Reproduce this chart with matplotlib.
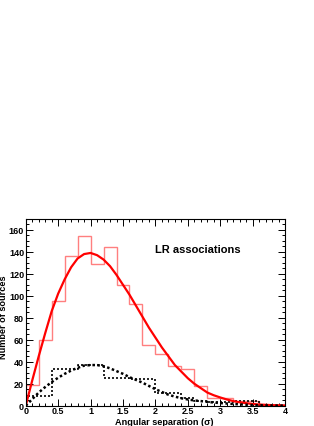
import numpy as np
import matplotlib
matplotlib.use("Agg")
import matplotlib.pyplot as plt
from matplotlib.ticker import MultipleLocator

plt.rcParams["font.family"] = ["Liberation Sans", "DejaVu Sans"]

# histogram bin edges (angular separation, sigma)
bin_edges = [round(0.2 * i, 1) for i in range(21)]

# LR associations, all sources (red histogram)
counts_all = [19, 60, 95, 136, 154, 129, 144, 110, 93, 55,
              47, 36, 33, 17.5, 7, 7, 4.5, 4.5, 1, 0.5]

# subsample (black dotted histogram)
counts_sub = [9, 9, 33, 33, 37, 37, 25, 25, 24.5, 24.5,
              12, 12, 7, 4.5, 3.5, 3, 4, 4, 0, 0]

# fitted curves read at 0.1 sigma steps
curve_x = [round(0.1 * i, 1) for i in range(41)]
curve_all = [0, 23, 45, 66, 86, 102, 115, 126, 134, 138,
             139, 137, 133, 127, 119, 110, 101, 91, 81, 71,
             62, 53, 45, 37, 31, 25, 20, 16, 12, 9.5,
             7.5, 5.7, 4.2, 3.1, 2.3, 1.6, 1.1, 0.8, 0.5, 0.4, 0.2]
curve_sub = [0, 6, 12, 17, 21.5, 25.5, 29, 32, 34.5, 36.5,
             37, 37, 36, 34, 31.5, 29, 26, 23.5, 21, 18,
             15, 12.5, 10, 8.3, 6.8, 5.7, 4.8, 4.2, 3.5, 2.9,
             2.4, 2.0, 1.6, 1.2, 0.9, 0.6, 0.4, 0.3, 0.2, 0.1, 0.1]

fig = plt.figure(figsize=(3.14, 4.27), dpi=100)
ax = fig.add_axes([0.082, 0.0475, 0.826, 0.4375])

ax.stairs(counts_all, bin_edges, color="#ff7f7f", lw=1.0)
ax.stairs(counts_sub, bin_edges, color="black", lw=1.2, ls=(0, (1.2, 1.2)))
ax.plot(curve_x, curve_all, color="#ff0000", lw=1.6)
ax.plot(curve_x, curve_sub, color="black", lw=1.8, ls=(0, (1, 1)))

ax.set_xlim(0, 4)
ax.set_ylim(0, 170)
ax.xaxis.set_major_locator(MultipleLocator(0.5))
ax.xaxis.set_minor_locator(MultipleLocator(0.1))
ax.yaxis.set_major_locator(MultipleLocator(20))
ax.yaxis.set_minor_locator(MultipleLocator(5))
ax.xaxis.set_major_formatter(plt.FuncFormatter(lambda v, p: f"{v:g}"))
ax.tick_params(which="both", direction="in", top=True, right=True,
               labelsize=6.5, width=0.7)
ax.tick_params(axis="x", pad=0.3)
ax.tick_params(axis="y", pad=1.2)
ax.tick_params(which="major", length=5)
ax.tick_params(which="minor", length=2.5)
for lab in ax.get_xticklabels() + ax.get_yticklabels():
    lab.set_fontweight("bold")
for sp in ax.spines.values():
    sp.set_linewidth(0.8)

ax.set_xlabel("Angular separation (σ)", fontsize=6.6, fontweight="bold",
              va="bottom")
ax.xaxis.set_label_coords(0.533, -0.107)
ax.set_ylabel("Number of sources", fontsize=6.6, fontweight="bold")
ax.yaxis.set_label_coords(-0.067, 0.478)
ax.text(0.663, 0.84, "LR associations", transform=ax.transAxes,
        ha="center", va="center", fontsize=8, fontweight="bold")

fig.savefig("out.png", dpi=100)
